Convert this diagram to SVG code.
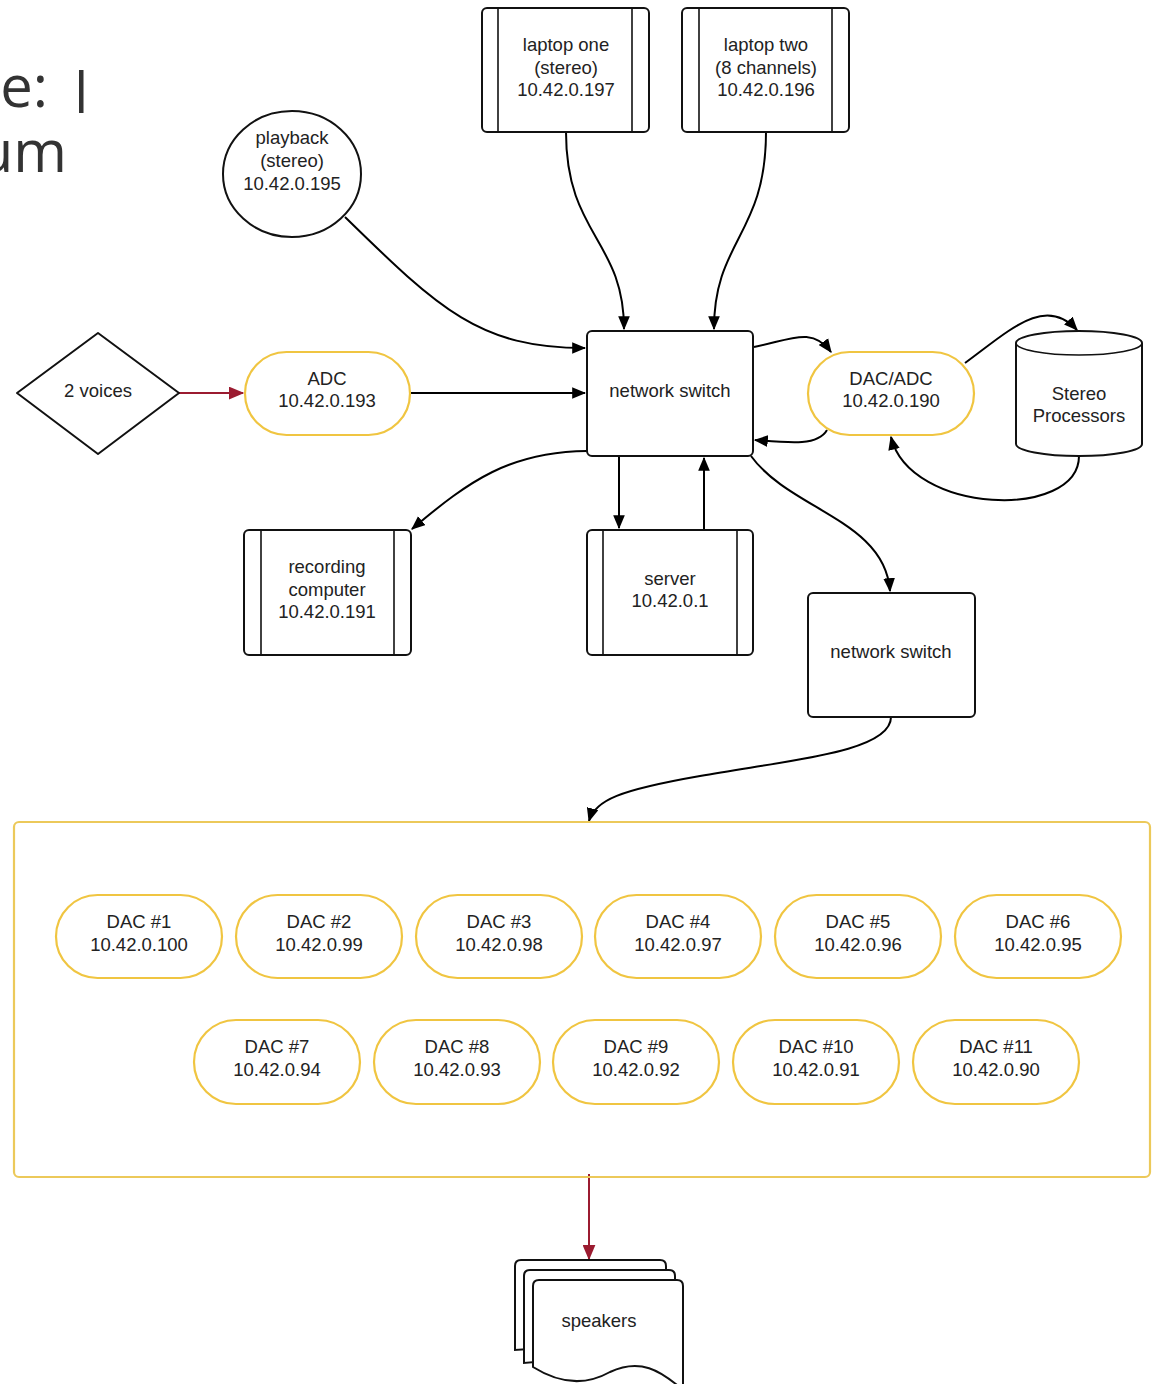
<svg xmlns="http://www.w3.org/2000/svg" width="1156" height="1384" viewBox="0 0 1156 1384">
<defs>
<style>
.n{fill:#fff;stroke:#111;stroke-width:2}
.y{fill:#fff;stroke:#f0c541;stroke-width:2.2}
.ln{fill:none;stroke:#111;stroke-width:1.6}
.t{font-family:"Liberation Sans",Arial,sans-serif;font-size:18.5px;fill:#222;text-anchor:middle}
.c{fill:none;stroke:#000;stroke-width:2}
.r{fill:none;stroke:#9b1b30;stroke-width:2}
</style>
<marker id="ah" viewBox="0 0 12 10" refX="11" refY="5" markerWidth="14" markerHeight="12" markerUnits="userSpaceOnUse" orient="auto">
<path d="M0,0 L12,5 L0,10 Z" fill="#000"/>
</marker>
<marker id="ahr" viewBox="0 0 12 10" refX="11" refY="5" markerWidth="16" markerHeight="13" markerUnits="userSpaceOnUse" orient="auto">
<path d="M0,0 L12,5 L0,10 Z" fill="#9b1b30"/>
</marker>
</defs>
<rect width="1156" height="1384" fill="#fff"/>

<g id="header-fragment" font-family="'Open Sans','Noto Sans',sans-serif" font-size="58" fill="#333">
<text x="48" y="107" text-anchor="end">e:</text>
<rect x="79" y="70" width="4.5" height="43" fill="#333"/>
<text x="67" y="172" text-anchor="end">um</text>
</g>

<g id="connectors">
<path class="c" d="M566,132 C566,235 624,240 624,329" marker-end="url(#ah)"/>
<path class="c" d="M766,132 C766,235 714,240 714,329" marker-end="url(#ah)"/>
<path class="c" d="M345,217 C440,310 480,348 585,348" marker-end="url(#ah)"/>
<path class="c" d="M410,393 L585,393" marker-end="url(#ah)"/>
<path class="c" d="M754,347 C790,340 812,326 831,352" marker-end="url(#ah)"/>
<path class="c" d="M827,430 C818,446 790,443 755,440" marker-end="url(#ah)"/>
<path class="c" d="M965,363 C1010,330 1045,295 1077,330" marker-end="url(#ah)"/>
<path class="c" d="M1079,456 C1079,520 910,515 891,437" marker-end="url(#ah)"/>
<path class="c" d="M587,451 C510,452 470,480 412,529" marker-end="url(#ah)"/>
<path class="c" d="M619,456 L619,528" marker-end="url(#ah)"/>
<path class="c" d="M704,530 L704,458" marker-end="url(#ah)"/>
<path class="c" d="M751,456 C790,510 885,520 890,591" marker-end="url(#ah)"/>
<path class="c" d="M891,717 C891,752 790,760 700,776 C620,790 595,800 589,821" marker-end="url(#ah)"/>
<path class="r" d="M179,393 L243,393" marker-end="url(#ahr)"/>
<path class="r" d="M589,1174 L589,1259" marker-end="url(#ahr)"/>
</g>

<g id="laptop-one">
<rect class="n" x="482" y="8" width="167" height="124" rx="5"/>
<line class="ln" x1="498" y1="8" x2="498" y2="132"/><line class="ln" x1="632" y1="8" x2="632" y2="132"/>
<text class="t" x="566" y="51">laptop one</text><text class="t" x="566" y="74">(stereo)</text><text class="t" x="566" y="96">10.42.0.197</text>
</g>
<g id="laptop-two">
<rect class="n" x="682" y="8" width="167" height="124" rx="5"/>
<line class="ln" x1="699" y1="8" x2="699" y2="132"/><line class="ln" x1="832" y1="8" x2="832" y2="132"/>
<text class="t" x="766" y="51">laptop two</text><text class="t" x="766" y="74">(8 channels)</text><text class="t" x="766" y="96">10.42.0.196</text>
</g>
<g id="playback">
<ellipse class="n" cx="292" cy="174" rx="69" ry="63"/>
<text class="t" x="292" y="144">playback</text><text class="t" x="292" y="167">(stereo)</text><text class="t" x="292" y="190">10.42.0.195</text>
</g>
<g id="voices">
<path class="n" d="M17,393 L98,333 L179,393 L98,454 Z" stroke-linejoin="round"/>
<text class="t" x="98" y="397">2 voices</text>
</g>
<g id="adc">
<rect class="y" x="245" y="352" width="165" height="83" rx="41.5"/>
<text class="t" x="327" y="385">ADC</text><text class="t" x="327" y="407">10.42.0.193</text>
</g>
<g id="network-switch">
<rect class="n" x="587" y="331" width="166" height="125" rx="5"/>
<text class="t" x="670" y="397">network switch</text>
</g>
<g id="dac-adc">
<rect class="y" x="808" y="352" width="166" height="83" rx="41.5"/>
<text class="t" x="891" y="385">DAC/ADC</text><text class="t" x="891" y="407">10.42.0.190</text>
</g>
<g id="stereo-processors">
<path class="n" d="M1016,343 A63,12 0 0 1 1142,343 L1142,444 A63,12 0 0 1 1016,444 Z"/>
<path class="ln" d="M1016,343 A63,12 0 0 0 1142,343" stroke-width="2"/>
<text class="t" x="1079" y="400">Stereo</text><text class="t" x="1079" y="422">Processors</text>
</g>
<g id="recording-computer">
<rect class="n" x="244" y="530" width="167" height="125" rx="5"/>
<line class="ln" x1="261" y1="530" x2="261" y2="655"/><line class="ln" x1="394" y1="530" x2="394" y2="655"/>
<text class="t" x="327" y="573">recording</text><text class="t" x="327" y="596">computer</text><text class="t" x="327" y="618">10.42.0.191</text>
</g>
<g id="server">
<rect class="n" x="587" y="530" width="166" height="125" rx="5"/>
<line class="ln" x1="603" y1="530" x2="603" y2="655"/><line class="ln" x1="737" y1="530" x2="737" y2="655"/>
<text class="t" x="670" y="585">server</text><text class="t" x="670" y="607">10.42.0.1</text>
</g>
<g id="network-switch-2">
<rect class="n" x="808" y="593" width="167" height="124" rx="5"/>
<text class="t" x="891" y="658">network switch</text>
</g>

<g id="dac-group">
<rect x="14" y="822" width="1136" height="355" rx="5" fill="none" stroke="#ecc95a" stroke-width="2.2"/>
</g>
<g id="dac1"><rect class="y" x="56" y="895" width="166" height="83" rx="41.5"/><text class="t" x="139" y="928">DAC #1</text><text class="t" x="139" y="951">10.42.0.100</text></g>
<g id="dac2"><rect class="y" x="236" y="895" width="166" height="83" rx="41.5"/><text class="t" x="319" y="928">DAC #2</text><text class="t" x="319" y="951">10.42.0.99</text></g>
<g id="dac3"><rect class="y" x="416" y="895" width="166" height="83" rx="41.5"/><text class="t" x="499" y="928">DAC #3</text><text class="t" x="499" y="951">10.42.0.98</text></g>
<g id="dac4"><rect class="y" x="595" y="895" width="166" height="83" rx="41.5"/><text class="t" x="678" y="928">DAC #4</text><text class="t" x="678" y="951">10.42.0.97</text></g>
<g id="dac5"><rect class="y" x="775" y="895" width="166" height="83" rx="41.5"/><text class="t" x="858" y="928">DAC #5</text><text class="t" x="858" y="951">10.42.0.96</text></g>
<g id="dac6"><rect class="y" x="955" y="895" width="166" height="83" rx="41.5"/><text class="t" x="1038" y="928">DAC #6</text><text class="t" x="1038" y="951">10.42.0.95</text></g>
<g id="dac7"><rect class="y" x="194" y="1020" width="166" height="84" rx="42"/><text class="t" x="277" y="1053">DAC #7</text><text class="t" x="277" y="1076">10.42.0.94</text></g>
<g id="dac8"><rect class="y" x="374" y="1020" width="166" height="84" rx="42"/><text class="t" x="457" y="1053">DAC #8</text><text class="t" x="457" y="1076">10.42.0.93</text></g>
<g id="dac9"><rect class="y" x="553" y="1020" width="166" height="84" rx="42"/><text class="t" x="636" y="1053">DAC #9</text><text class="t" x="636" y="1076">10.42.0.92</text></g>
<g id="dac10"><rect class="y" x="733" y="1020" width="166" height="84" rx="42"/><text class="t" x="816" y="1053">DAC #10</text><text class="t" x="816" y="1076">10.42.0.91</text></g>
<g id="dac11"><rect class="y" x="913" y="1020" width="166" height="84" rx="42"/><text class="t" x="996" y="1053">DAC #11</text><text class="t" x="996" y="1076">10.42.0.90</text></g>

<g id="speakers">
<path class="n" d="M515,1266 Q515,1260 521,1260 L660,1260 Q666,1260 666,1266 L666,1340 L515,1350 Z"/>
<path class="n" d="M524,1276 Q524,1270 530,1270 L669,1270 Q675,1270 675,1276 L675,1350 L524,1363 Z"/>
<path class="n" d="M533,1286 Q533,1280 539,1280 L677,1280 Q683,1280 683,1286 L683,1390 C660,1370 640,1358 610,1372 C585,1386 560,1384 533,1367 Z"/>
<text class="t" x="599" y="1327">speakers</text>
</g>
</svg>
